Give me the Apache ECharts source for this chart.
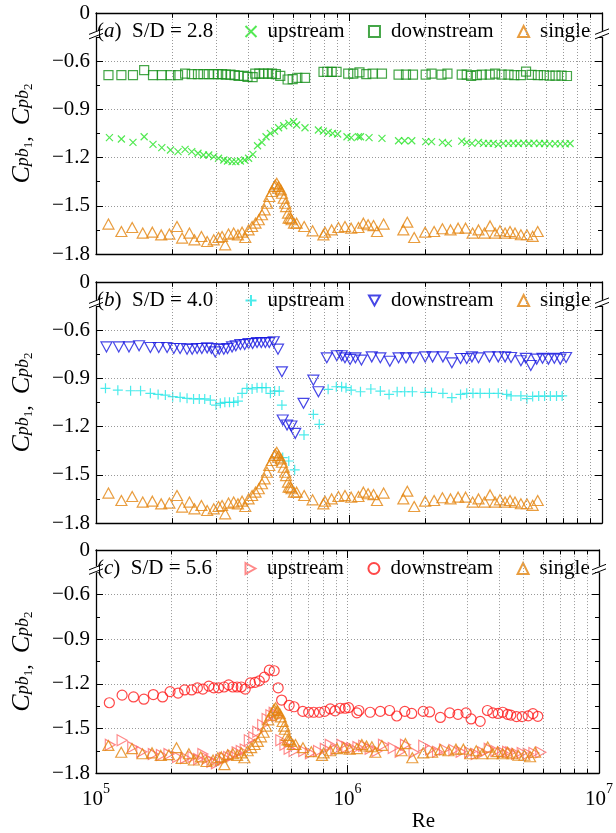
<!DOCTYPE html>
<html>
<head>
<meta charset="utf-8">
<script src="https://cdn.jsdelivr.net/npm/echarts@6/dist/echarts.min.js"></script>
<style>
  html, body { margin: 0; padding: 0; background: #fff; }
  #main { width: 616px; height: 833px; }
</style>
</head>
<body>
<div id="main"></div>
<script>
// [Re, Cpb] pairs

// single cylinder, same in all three panels
var single = [[1.12e5,-1.614],[1.26e5,-1.660],[1.39e5,-1.635],[1.53e5,-1.670],[1.67e5,-1.664],[1.81e5,-1.681],[1.95e5,-1.676],[2.09e5,-1.629],[2.19e5,-1.701],[2.34e5,-1.670],[2.45e5,-1.712],[2.61e5,-1.691],[2.75e5,-1.722],[2.92e5,-1.712],[3.05e5,-1.697],[3.15e5,-1.691],[3.24e5,-1.743],[3.34e5,-1.676],[3.50e5,-1.670],[3.64e5,-1.681],[3.78e5,-1.664],[3.89e5,-1.697],[4.01e5,-1.650],[4.14e5,-1.629],[4.27e5,-1.608],[4.40e5,-1.587],[4.53e5,-1.556],[4.64e5,-1.525],[4.74e5,-1.484],[4.84e5,-1.442],[4.96e5,-1.411],[5.07e5,-1.380],[5.11e5,-1.370],[5.18e5,-1.360],[5.24e5,-1.391],[5.27e5,-1.380],[5.38e5,-1.401],[5.43e5,-1.422],[5.52e5,-1.453],[5.60e5,-1.484],[5.64e5,-1.505],[5.74e5,-1.546],[5.77e5,-1.577],[5.86e5,-1.577],[5.93e5,-1.587],[6.06e5,-1.608],[6.21e5,-1.608],[6.65e5,-1.629],[7.18e5,-1.656],[7.92e5,-1.681],[8.04e5,-1.664],[8.54e5,-1.650],[9.08e5,-1.635],[9.64e5,-1.629],[1.02e6,-1.639],[1.09e6,-1.635],[1.14e6,-1.608],[1.19e6,-1.618],[1.25e6,-1.623],[1.29e6,-1.660],[1.37e6,-1.614],[1.64e6,-1.650],[1.70e6,-1.602],[1.81e6,-1.697],[2.00e6,-1.664],[2.17e6,-1.660],[2.34e6,-1.643],[2.52e6,-1.650],[2.70e6,-1.639],[2.89e6,-1.639],[3.08e6,-1.670],[3.25e6,-1.650],[3.43e6,-1.670],[3.61e6,-1.625],[3.78e6,-1.670],[3.95e6,-1.656],[4.14e6,-1.670],[4.33e6,-1.660],[4.53e6,-1.670],[4.78e6,-1.680],[5.05e6,-1.680],[5.32e6,-1.690],[5.57e6,-1.660]];

// (a) S/D = 2.8
var upA = [[1.13e5,-1.076],[1.26e5,-1.084],[1.40e5,-1.105],[1.55e5,-1.070],[1.68e5,-1.118],[1.82e5,-1.138],[1.97e5,-1.153],[2.11e5,-1.163],[2.25e5,-1.149],[2.39e5,-1.163],[2.53e5,-1.173],[2.66e5,-1.184],[2.79e5,-1.184],[2.92e5,-1.194],[3.05e5,-1.204],[3.20e5,-1.215],[3.31e5,-1.221],[3.45e5,-1.225],[3.57e5,-1.225],[3.72e5,-1.221],[3.87e5,-1.215],[4.01e5,-1.204],[4.17e5,-1.180],[4.35e5,-1.126],[4.53e5,-1.105],[4.70e5,-1.070],[4.89e5,-1.049],[5.08e5,-1.035],[5.27e5,-1.014],[5.52e5,-1.002],[5.78e5,-0.987],[6.04e5,-0.977],[6.21e5,-0.997],[6.70e5,-1.014],[7.57e5,-1.028],[7.92e5,-1.035],[8.28e5,-1.043],[8.61e5,-1.049],[9.02e5,-1.053],[9.82e5,-1.070],[1.02e6,-1.076],[1.09e6,-1.070],[1.11e6,-1.070],[1.20e6,-1.076],[1.35e6,-1.080],[1.57e6,-1.095],[1.66e6,-1.095],[1.77e6,-1.095],[2.01e6,-1.101],[2.12e6,-1.101],[2.34e6,-1.105],[2.47e6,-1.111],[2.79e6,-1.097],[2.92e6,-1.105],[3.06e6,-1.111],[3.25e6,-1.105],[3.40e6,-1.111],[3.56e6,-1.111],[3.72e6,-1.111],[3.89e6,-1.118],[4.07e6,-1.111],[4.27e6,-1.111],[4.46e6,-1.110],[4.67e6,-1.112],[4.90e6,-1.110],[5.14e6,-1.112],[5.38e6,-1.110],[5.66e6,-1.112],[5.93e6,-1.112],[6.21e6,-1.115],[6.53e6,-1.113],[6.84e6,-1.115],[7.16e6,-1.115],[7.48e6,-1.112]];
var downA = [[1.12e5,-0.687],[1.26e5,-0.687],[1.40e5,-0.687],[1.55e5,-0.656],[1.68e5,-0.687],[1.82e5,-0.687],[1.97e5,-0.687],[2.11e5,-0.687],[2.25e5,-0.677],[2.39e5,-0.681],[2.53e5,-0.681],[2.66e5,-0.681],[2.79e5,-0.681],[2.92e5,-0.681],[3.04e5,-0.681],[3.15e5,-0.681],[3.26e5,-0.683],[3.40e5,-0.683],[3.53e5,-0.687],[3.66e5,-0.691],[3.84e5,-0.691],[3.97e5,-0.697],[4.16e5,-0.699],[4.26e5,-0.677],[4.42e5,-0.677],[4.60e5,-0.677],[4.79e5,-0.677],[4.96e5,-0.677],[5.14e5,-0.681],[5.35e5,-0.691],[5.72e5,-0.714],[5.99e5,-0.712],[6.25e5,-0.704],[6.70e5,-0.704],[7.93e5,-0.666],[8.21e5,-0.666],[8.54e5,-0.666],[8.93e5,-0.666],[9.93e5,-0.677],[1.04e6,-0.677],[1.10e6,-0.670],[1.17e6,-0.681],[1.24e6,-0.677],[1.35e6,-0.677],[1.57e6,-0.683],[1.68e6,-0.683],[1.79e6,-0.683],[2.01e6,-0.683],[2.12e6,-0.677],[2.32e6,-0.683],[2.45e6,-0.677],[2.79e6,-0.683],[2.92e6,-0.683],[3.04e6,-0.691],[3.20e6,-0.687],[3.35e6,-0.683],[3.60e6,-0.683],[3.78e6,-0.677],[4.01e6,-0.683],[4.27e6,-0.683],[4.50e6,-0.687],[4.78e6,-0.687],[5.01e6,-0.665],[5.27e6,-0.685],[5.58e6,-0.687],[5.89e6,-0.687],[6.21e6,-0.690],[6.55e6,-0.690],[6.92e6,-0.690],[7.27e6,-0.692]];

// (b) S/D = 4.0
var upB = [[1.09e5,-0.962],[1.22e5,-0.973],[1.37e5,-0.977],[1.50e5,-0.977],[1.64e5,-0.993],[1.76e5,-1.000],[1.88e5,-1.004],[2.01e5,-1.014],[2.15e5,-1.018],[2.29e5,-1.024],[2.43e5,-1.028],[2.56e5,-1.028],[2.69e5,-1.028],[2.83e5,-1.035],[2.98e5,-1.066],[3.10e5,-1.055],[3.23e5,-1.049],[3.37e5,-1.049],[3.50e5,-1.049],[3.64e5,-1.041],[3.78e5,-0.993],[3.95e5,-0.962],[4.14e5,-0.966],[4.33e5,-0.958],[4.53e5,-0.958],[4.70e5,-0.958],[4.89e5,-0.993],[5.08e5,-0.979],[5.30e5,-0.979],[5.43e5,-1.066],[5.47e5,-1.393],[5.78e5,-1.414],[6.10e5,-1.469],[6.64e5,-1.252],[7.23e5,-1.124],[7.63e5,-1.186],[8.27e5,-0.968],[8.91e5,-0.952],[9.35e5,-0.952],[9.73e5,-0.958],[1.02e6,-0.973],[1.11e6,-0.983],[1.22e6,-0.966],[1.33e6,-0.979],[1.44e6,-1.000],[1.55e6,-0.983],[1.66e6,-0.983],[1.78e6,-0.983],[2.00e6,-0.987],[2.12e6,-0.987],[2.35e6,-0.993],[2.55e6,-1.020],[2.76e6,-1.000],[2.92e6,-0.993],[3.09e6,-0.993],[3.30e6,-0.993],[3.59e6,-0.993],[3.89e6,-0.993],[4.20e6,-1.000],[4.37e6,-1.009],[4.78e6,-1.009],[5.05e6,-1.026],[5.32e6,-1.012],[5.62e6,-1.010],[5.93e6,-1.010],[6.25e6,-1.010],[6.61e6,-1.010],[6.96e6,-1.009]];
var downB = [[1.10e5,-0.704],[1.23e5,-0.704],[1.35e5,-0.704],[1.48e5,-0.697],[1.64e5,-0.708],[1.77e5,-0.708],[1.91e5,-0.708],[2.03e5,-0.714],[2.15e5,-0.714],[2.29e5,-0.718],[2.40e5,-0.718],[2.51e5,-0.714],[2.62e5,-0.714],[2.75e5,-0.710],[2.86e5,-0.714],[2.96e5,-0.735],[3.07e5,-0.718],[3.20e5,-0.718],[3.31e5,-0.714],[3.45e5,-0.704],[3.57e5,-0.697],[3.72e5,-0.689],[3.87e5,-0.689],[4.01e5,-0.683],[4.16e5,-0.683],[4.33e5,-0.677],[4.50e5,-0.677],[4.67e5,-0.677],[4.84e5,-0.677],[5.04e5,-0.672],[5.24e5,-0.718],[5.43e5,-0.859],[5.47e5,-1.159],[5.69e5,-1.190],[5.92e5,-1.196],[6.13e5,-1.242],[6.61e5,-1.055],[7.23e5,-0.911],[7.57e5,-0.983],[8.17e5,-0.772],[8.95e5,-0.759],[9.36e5,-0.759],[9.64e5,-0.772],[1.01e6,-0.782],[1.06e6,-0.772],[1.12e6,-0.786],[1.23e6,-0.766],[1.33e6,-0.772],[1.45e6,-0.793],[1.57e6,-0.772],[1.68e6,-0.772],[1.80e6,-0.772],[2.00e6,-0.766],[2.14e6,-0.766],[2.35e6,-0.766],[2.55e6,-0.803],[2.76e6,-0.776],[2.92e6,-0.776],[3.06e6,-0.766],[3.25e6,-0.772],[3.59e6,-0.766],[3.89e6,-0.766],[4.14e6,-0.766],[4.37e6,-0.770],[4.78e6,-0.790],[5.00e6,-0.775],[5.23e6,-0.820],[5.52e6,-0.780],[5.82e6,-0.775],[6.14e6,-0.780],[6.48e6,-0.775],[6.84e6,-0.780],[7.21e6,-0.770]];

// (c) S/D = 5.6
var upC = [[1.14e5,-1.610],[1.27e5,-1.579],[1.40e5,-1.625],[1.52e5,-1.657],[1.69e5,-1.672],[1.82e5,-1.678],[1.95e5,-1.672],[2.11e5,-1.692],[2.27e5,-1.698],[2.43e5,-1.692],[2.56e5,-1.706],[2.66e5,-1.672],[2.77e5,-1.702],[2.89e5,-1.723],[3.01e5,-1.733],[3.13e5,-1.713],[3.24e5,-1.698],[3.37e5,-1.692],[3.50e5,-1.682],[3.64e5,-1.661],[3.78e5,-1.651],[3.92e5,-1.641],[4.07e5,-1.579],[4.24e5,-1.559],[4.40e5,-1.522],[4.60e5,-1.477],[4.79e5,-1.436],[4.96e5,-1.411],[5.11e5,-1.395],[5.27e5,-1.416],[5.43e5,-1.579],[5.64e5,-1.610],[5.86e5,-1.637],[6.13e5,-1.651],[6.70e5,-1.651],[7.12e5,-1.666],[7.67e5,-1.651],[8.16e5,-1.637],[8.54e5,-1.610],[8.99e5,-1.641],[9.50e5,-1.610],[9.94e5,-1.625],[1.04e6,-1.631],[1.10e6,-1.625],[1.16e6,-1.616],[1.23e6,-1.637],[1.31e6,-1.651],[1.39e6,-1.610],[1.52e6,-1.631],[1.62e6,-1.657],[1.70e6,-1.610],[1.84e6,-1.661],[2.01e6,-1.616],[2.14e6,-1.641],[2.28e6,-1.657],[2.43e6,-1.641],[2.65e6,-1.645],[2.83e6,-1.657],[3.06e6,-1.661],[3.25e6,-1.672],[3.45e6,-1.661],[3.66e6,-1.637],[3.89e6,-1.651],[4.14e6,-1.661],[4.33e6,-1.657],[4.46e6,-1.660],[4.70e6,-1.670],[4.95e6,-1.665],[5.23e6,-1.670],[5.51e6,-1.665],[5.87e6,-1.660]];
var downC = [[1.13e5,-1.327],[1.27e5,-1.276],[1.41e5,-1.288],[1.55e5,-1.303],[1.69e5,-1.272],[1.84e5,-1.288],[1.97e5,-1.252],[2.12e5,-1.262],[2.25e5,-1.241],[2.40e5,-1.241],[2.53e5,-1.227],[2.66e5,-1.235],[2.81e5,-1.215],[2.94e5,-1.227],[3.07e5,-1.227],[3.23e5,-1.221],[3.37e5,-1.207],[3.50e5,-1.221],[3.64e5,-1.221],[3.78e5,-1.221],[3.92e5,-1.235],[4.11e5,-1.194],[4.29e5,-1.190],[4.46e5,-1.180],[4.67e5,-1.155],[4.89e5,-1.108],[5.11e5,-1.112],[5.30e5,-1.227],[5.47e5,-1.309],[5.86e5,-1.344],[6.13e5,-1.354],[6.64e5,-1.385],[7.01e5,-1.391],[7.34e5,-1.391],[7.73e5,-1.391],[8.11e5,-1.385],[8.54e5,-1.368],[8.93e5,-1.381],[9.35e5,-1.364],[9.79e5,-1.364],[1.01e6,-1.360],[1.09e6,-1.395],[1.11e6,-1.379],[1.23e6,-1.391],[1.35e6,-1.385],[1.47e6,-1.379],[1.57e6,-1.416],[1.69e6,-1.385],[1.80e6,-1.399],[2.00e6,-1.385],[2.12e6,-1.389],[2.34e6,-1.426],[2.55e6,-1.395],[2.75e6,-1.405],[2.96e6,-1.395],[3.10e6,-1.436],[3.37e6,-1.452],[3.60e6,-1.379],[3.78e6,-1.395],[3.97e6,-1.399],[4.14e6,-1.391],[4.33e6,-1.405],[4.46e6,-1.410],[4.70e6,-1.420],[4.95e6,-1.420],[5.23e6,-1.415],[5.46e6,-1.400],[5.71e6,-1.418]];

// axis ticks
var yTicks = [-1.8, -1.5, -1.2, -0.9, -0.6, -0.3];  // top tick is drawn as "0" (broken axis)
var minorRe = [2e5,3e5,4e5,5e5,6e5,7e5,8e5,9e5,2e6,3e6,4e6,5e6,6e6,7e6,8e6,9e6];

var FONT = 'Liberation Serif';
var crossSym = 'path://M0,0L10,10M0,10L10,0';
var plusSym = 'path://M5,0L5,10M0,5L10,5';
var downTri = 'path://M0,0L10,0L5,9Z';
var rightTri = 'path://M0,0L9,5L0,10Z';

var panels = [
  { tag: 'a', sd: '2.8', top: 13, height: 241,
    up: upA, upColor: '#27e327', upSymbol: crossSym, upSize: 7,
    down: downA, downColor: '#17901a', downSymbol: 'rect', downSize: 9 },
  { tag: 'b', sd: '4.0', top: 282, height: 241,
    up: upB, upColor: '#1fe6e6', upSymbol: plusSym, upSize: 10,
    down: downB, downColor: '#1818e0', downSymbol: downTri, downSize: [11, 10] },
  { tag: 'c', sd: '5.6', top: 550, height: 243,
    up: upC, upColor: '#ff6c6c', upSymbol: rightTri, upSize: [10, 11],
    down: downC, downColor: '#ff1a1a', downSymbol: 'circle', downSize: 10 }
];
var singleColor = '#e3850f';

var myChart = echarts.init(document.getElementById('main'));

var grids = [], xAxes = [], yAxes = [], series = [], legends = [], titles = [];
var helperIdx = [];

panels.forEach(function (p, i) {
  var tail = '\u200b'.repeat(i);  // legend names have to be unique per panel
  var last = i === panels.length - 1;

  grids.push({ left: 96, width: 506, top: p.top, height: p.height });

  xAxes.push({
    type: 'log', logBase: 10, gridIndex: i, min: 1e5, max: 1e7,
    axisLine: { lineStyle: { color: '#000', width: 1.3 } },
    axisTick: { inside: true, length: 8, lineStyle: { color: '#000' } },
    axisLabel: {
      show: last, margin: 9, color: '#000',
      formatter: function (v) { return '{b|10}{e|' + Math.round(Math.log10(v)) + '}'; },
      rich: {
        b: { fontFamily: FONT, fontSize: 21, lineHeight: 28, verticalAlign: 'bottom', color: '#000' },
        e: { fontFamily: FONT, fontSize: 14, lineHeight: 14, verticalAlign: 'top', color: '#000' }
      }
    },
    splitLine: { show: true, lineStyle: { type: [1, 2], color: '#999' } },
    name: last ? 'Re' : '', nameLocation: 'middle', nameGap: 15,
    nameTextStyle: { fontFamily: FONT, fontSize: 21, color: '#000', padding: [0, 0, 0, 152] }
  });
  xAxes.push({
    type: 'log', logBase: 10, gridIndex: i, min: 1e5, max: 1e7, position: 'top',
    axisLine: { lineStyle: { color: '#000', width: 1.3 } },
    axisTick: { inside: true, length: 8, lineStyle: { color: '#000' } },
    axisLabel: { show: false }, splitLine: { show: false }
  });

  yAxes.push({
    type: 'value', gridIndex: i, min: yTicks[0], max: yTicks[yTicks.length - 1], interval: 0.3,
    axisLine: { show: true, lineStyle: { color: '#000', width: 1.3 } },
    axisTick: { inside: true, length: 7, lineStyle: { color: '#000' } },
    minorTick: { show: true, splitNumber: 2, length: 4, lineStyle: { color: '#000' } },
    axisLabel: {
      margin: 6, fontFamily: FONT, fontSize: 21, color: '#000',
      formatter: function (v) { return v > -0.45 ? '0' : '\u2212' + (-v).toFixed(1); }
    },
    splitLine: { show: true, lineStyle: { type: [1, 2], color: '#999' } },
    name: '{c|C}{s|pb}{n|1}{r|,\u2002}{c|C}{s|pb}{n|2}',
    nameLocation: 'middle', nameRotate: 90, nameGap: 61,
    nameTextStyle: {
      rich: {
        c: { fontFamily: FONT, fontStyle: 'italic', fontSize: 26, lineHeight: 26, verticalAlign: 'top', color: '#000' },
        s: { fontFamily: FONT, fontStyle: 'italic', fontSize: 18, lineHeight: 18, padding: [0, 0, 3, 0], verticalAlign: 'bottom', color: '#000' },
        n: { fontFamily: FONT, fontSize: 13, lineHeight: 13, verticalAlign: 'bottom', color: '#000' },
        r: { fontFamily: FONT, fontSize: 22, lineHeight: 22, verticalAlign: 'bottom', color: '#000' }
      }
    }
  });
  yAxes.push({
    type: 'value', gridIndex: i, min: yTicks[0], max: yTicks[yTicks.length - 1], interval: 0.3,
    position: 'right',
    axisLine: { show: true, lineStyle: { color: '#000', width: 1.3 } },
    axisTick: { inside: true, length: 7, lineStyle: { color: '#000' } },
    minorTick: { show: true, splitNumber: 2, length: 4, lineStyle: { color: '#000' } },
    axisLabel: { show: false }, splitLine: { show: false }
  });

  var xi = 2 * i, yi = 2 * i;

  // minor grid lines + minor ticks (log axis has no minor ticks of its own)
  var marks = [];
  minorRe.forEach(function (v) {
    marks.push({ xAxis: v, lineStyle: { type: [1, 2], color: '#999', width: 1 } });
    var ls = { type: 'solid', color: '#000', width: 1 };
    marks.push([{ coord: [v, -1.8], lineStyle: ls }, { coord: [v, -1.77], lineStyle: ls }]);
    marks.push([{ coord: [v, -0.3], lineStyle: ls }, { coord: [v, -0.33], lineStyle: ls }]);
  });
  helperIdx.push(series.length);
  series.push({
    type: 'scatter', name: 'grid' + i, xAxisIndex: xi, yAxisIndex: yi, data: [], z: 1,
    markLine: { silent: true, symbol: ['none', 'none'], label: { show: false }, animation: false, data: marks }
  });

  series.push({
    type: 'scatter', name: 'upstream' + tail, xAxisIndex: xi, yAxisIndex: yi, data: p.up,
    symbol: p.upSymbol, symbolSize: p.upSize,
    itemStyle: { color: 'none', borderColor: p.upColor, borderWidth: 1.2 }
  });
  series.push({
    type: 'scatter', name: 'downstream' + tail, xAxisIndex: xi, yAxisIndex: yi, data: p.down,
    symbol: p.downSymbol, symbolSize: p.downSize,
    itemStyle: { color: 'none', borderColor: p.downColor, borderWidth: 1.2 }
  });
  series.push({
    type: 'scatter', name: 'single' + tail, xAxisIndex: xi, yAxisIndex: yi, data: single,
    symbol: 'triangle', symbolSize: [11, 10],
    itemStyle: { color: 'none', borderColor: singleColor, borderWidth: 1.2 }
  });

  legends.push({
    data: [
      { name: 'upstream' + tail, icon: p.upSymbol },
      { name: 'downstream' + tail, icon: p.downSymbol },
      { name: 'single' + tail, icon: 'triangle' }
    ],
    left: 243, top: p.top + 8, padding: 0, itemGap: 22, itemWidth: 11, itemHeight: 11,
    symbolKeepAspect: true, selectedMode: false,
    formatter: function (name) { return name.replace(/\u200b/g, ''); },
    textStyle: { fontFamily: FONT, fontSize: 21, color: '#000', padding: [0, 0, 0, 6] }
  });

  titles.push({
    text: '({i|' + p.tag + '})  S/D = ' + p.sd,
    left: 97, top: p.top + 8, padding: 0,
    textStyle: {
      fontFamily: FONT, fontSize: 21, fontWeight: 'normal', color: '#000',
      rich: { i: { fontFamily: FONT, fontStyle: 'italic', fontSize: 21, color: '#000' } }
    }
  });
});

var option = {
  backgroundColor: '#fff',
  animation: false,
  title: titles,
  legend: legends,
  grid: grids,
  xAxis: xAxes,
  yAxis: yAxes,
  series: series
};

myChart.setOption(option);

// axis break marks "//" on both spines between 0 and -0.6
function breakMark(x, y) {
  return [
    { type: 'rect', z: 100, shape: { x: x - 3, y: y - 3, width: 6, height: 6 }, style: { fill: '#fff' } },
    { type: 'line', z: 101, shape: { x1: x - 7, y1: y + 0.5, x2: x + 7, y2: y - 5 }, style: { stroke: '#000', lineWidth: 1 } },
    { type: 'line', z: 101, shape: { x1: x - 7, y1: y + 5, x2: x + 7, y2: y - 0.5 }, style: { stroke: '#000', lineWidth: 1 } }
  ];
}

var graphics = [];
helperIdx.forEach(function (s) {
  var l = myChart.convertToPixel({ seriesIndex: s }, [1e5, -0.43]);
  var r = myChart.convertToPixel({ seriesIndex: s }, [1e7, -0.43]);
  graphics = graphics.concat(breakMark(l[0], l[1]), breakMark(r[0], r[1]));
});
myChart.setOption({ graphic: graphics });
</script>
</body>
</html>
